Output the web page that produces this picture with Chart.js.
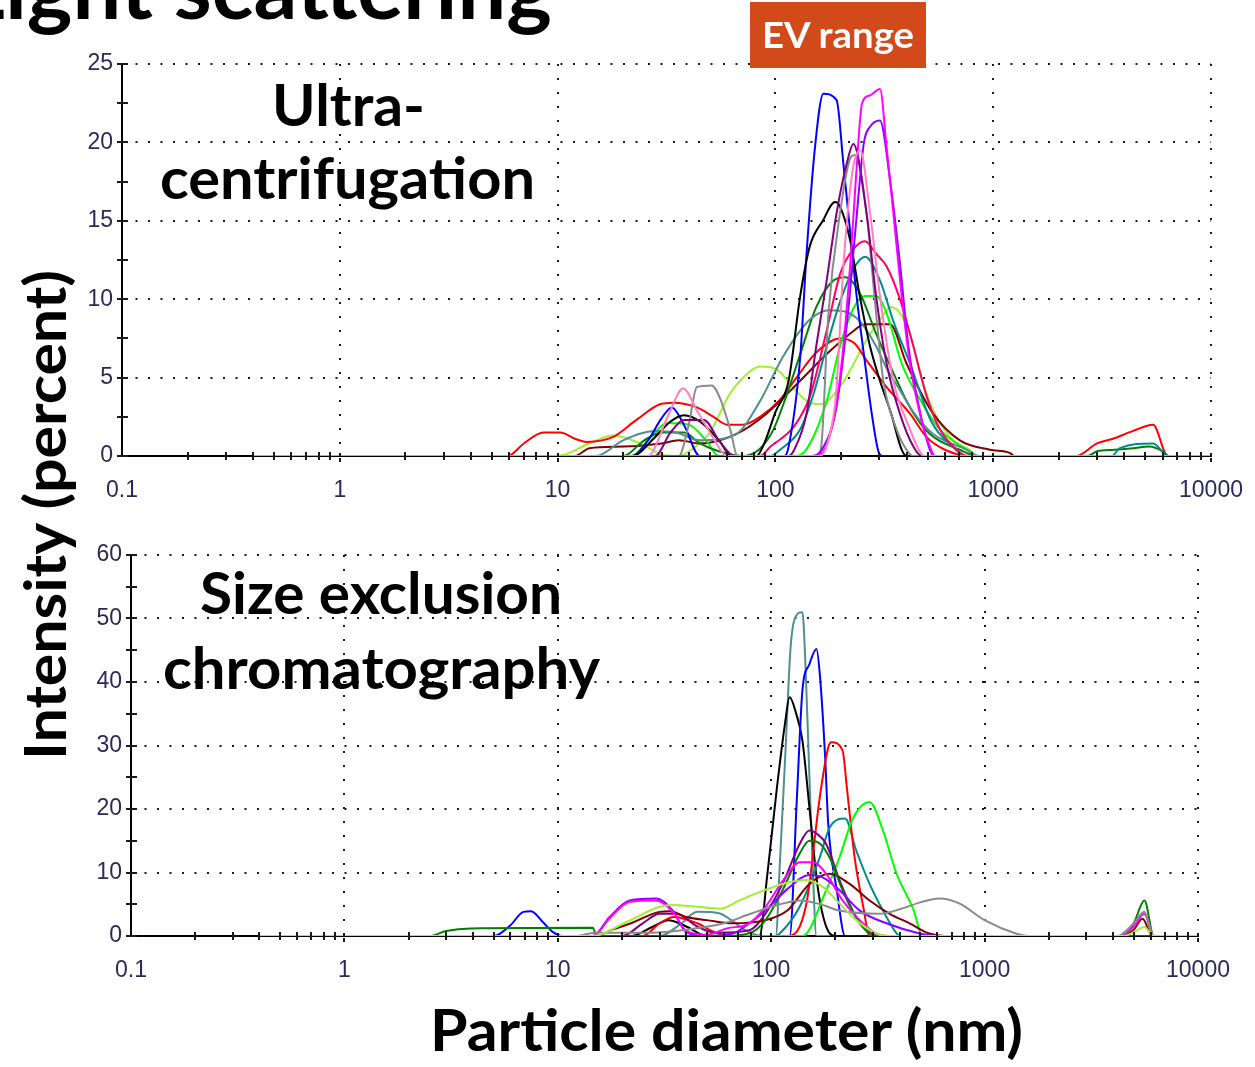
<!DOCTYPE html>
<html><head><meta charset="utf-8">
<script src="https://cdn.jsdelivr.net/npm/chart.js@4.4.1/dist/chart.umd.min.js"></script>
<style>
html,body{margin:0;padding:0;background:#fff;overflow:hidden;}
#wrap{position:relative;width:1255px;height:1067px;overflow:hidden;background:#fff;}
#c1{position:absolute;left:0;top:0;}
#c2{position:absolute;left:0;top:530px;}
#ov{position:absolute;left:0;top:0;pointer-events:none;}
#ov text{font-family:Lato,'Open Sans','DejaVu Sans',sans-serif;font-weight:700;}
</style></head><body>
<div id="wrap">
<canvas id="c1" width="1270" height="530"></canvas>
<canvas id="c2" width="1270" height="537"></canvas>
<svg id="ov" width="1255" height="1067" xmlns="http://www.w3.org/2000/svg">
  <text x="-40" y="19" font-size="84" textLength="592" lengthAdjust="spacingAndGlyphs" fill="#000">Light scattering</text>
  <rect x="750" y="2" width="176" height="66" fill="#D24A1A"/>
  <text x="762" y="48" font-size="36" fill="#fff" textLength="152" lengthAdjust="spacingAndGlyphs">EV range</text>
  <text x="272" y="126" font-size="57" textLength="153" lengthAdjust="spacingAndGlyphs" fill="#000">Ultra-</text>
  <text x="160" y="199" font-size="57" textLength="375" lengthAdjust="spacingAndGlyphs" fill="#000">centrifugation</text>
  <text x="200" y="614" font-size="57" textLength="362" lengthAdjust="spacingAndGlyphs" fill="#000">Size exclusion</text>
  <text x="163" y="689" font-size="57" textLength="437" lengthAdjust="spacingAndGlyphs" fill="#000">chromatography</text>
  <text x="430" y="1051" font-size="58" textLength="593" lengthAdjust="spacingAndGlyphs" fill="#000">Particle diameter (nm)</text>
  <text transform="translate(66,760) rotate(-90)" x="0" y="0" font-size="57" textLength="490" lengthAdjust="spacingAndGlyphs" fill="#000">Intensity (percent)</text>
</svg>
</div>
<script>
// ---------- axis ticks ----------
const xDecades = [0.1, 1, 10, 100, 1000, 10000];
const xTickLabels = ['0.1', '1', '10', '100', '1000', '10000'];
const ucYMajor = [0, 5, 10, 15, 20, 25];
const ucYMinor = [2.5, 7.5, 12.5, 17.5, 22.5];
const secYMajor = [0, 10, 20, 30, 40, 50, 60];
const secYMinor = [5, 15, 25, 35, 45, 55];

// ---------- Ultracentrifugation: [diameter nm, intensity %] ----------
const ucPink = [[0.4,0],[26,0],[32,2.5],[37.7,4.3],[44,2.8],[51.6,1.2],[60,0],[160,0],[175,1],[190,4],[205,12],[225,18],[245,19.5],[272,15.5],[302,10.2],[348,4.8],[415,1.7],[455,0.4],[480,0],[10000,0]];
const ucMagenta = [[0.4,0],[150,0],[175,1],[198,5],[220,12],[235,18],[250,22.5],[272,23],[302,23.4],[324,19.7],[348,15.5],[380,10.2],[415,5.9],[461,2.7],[512,0.6],[540,0],[10000,0]];
const ucViolet = [[0.4,0],[145,0],[165,0.5],[190,3],[215,9],[235,15],[255,20],[272,21],[302,21.4],[336,17.6],[373,12.3],[408,7],[446,3.8],[512,0.4],[540,0],[10000,0]];
const ucPurple = [[0.4,0],[28,0],[33,1.5],[38,2.3],[47,2.3],[55,1],[65,0],[115,0],[122,0.4],[139,2.7],[154,7],[172,11.2],[191,15.5],[213,18.7],[228,19.9],[262,15.5],[290,10.2],[324,5.9],[373,2.7],[430,0.6],[470,0],[10000,0]];
const ucGray = [[0.4,0],[36,0],[40,2],[43.6,4.4],[51,4.5],[56,3.6],[62,1.7],[67,0],[155,0],[162,0.5],[175,9],[198,15.5],[223,19.1],[234,19.2],[262,15.5],[290,9.1],[313,4.8],[360,1.7],[400,0.4],[430,0],[10000,0]];
const ucBlack = [[0.4,0],[22,0],[28,1.2],[33,2.2],[38,2.6],[45,2.2],[55,1],[63,0],[82,0],[90,1],[100,2.8],[115,4.8],[130,10.2],[144,13.4],[165,15],[188,16.2],[198,15.9],[220,13.8],[244,10.2],[272,7],[302,4.8],[340,2.7],[380,0.4],[400,0],[10000,0]];
const ucBlue = [[0.4,0],[22,0],[26,1],[30,2.4],[33.5,3.1],[38,2],[45,0],[110,0],[115,0.6],[130,6.3],[139,12.9],[152,19.7],[166,23.1],[191,22.7],[205,18.7],[220,14.4],[236,10.2],[258,5.9],[277,2.7],[297,0.3],[310,0],[10000,0]];
const ucRose = [[0.4,0],[85,0],[95,0.6],[122,1.9],[144,3.8],[172,8],[198,11.6],[225,13.1],[258,13.7],[290,12.9],[324,12.1],[373,10],[430,7],[495,3.8],[569,1.7],[680,0.4],[760,0],[10000,0]];
const ucTeal = [[0.4,0],[95,0],[105,0.4],[130,1.7],[150,4],[172,7],[200,10],[230,12],[258,12.7],[302,11.2],[350,8.5],[415,5.9],[520,2.2],[650,0.6],[750,0],[3500,0],[3820,0.5],[5420,0.8],[6350,0],[10000,0]];
const ucCadet = [[0.4,0],[15,0],[20,1],[28,1.6],[35,1.5],[45,1],[66,1.4],[85,3.5],[108,6.3],[144,8.7],[178,9.3],[210,9.2],[244,8.6],[290,7],[324,5.6],[373,4.2],[430,2.8],[530,1.4],[755,0.4],[850,0],[10000,0]];
const ucDarkGreen = [[0.4,0],[20,0],[25,1],[30,1.5],[38,1.5],[45,0.8],[55,0.3],[70,0],[84,0.4],[98,1.7],[112,3.8],[130,6.5],[154,9.5],[185,11.2],[210,11.4],[244,10.4],[290,7.8],[348,5.3],[415,3.1],[512,1.4],[703,0.4],[850,0],[2700,0],[3000,0.3],[3600,0.4],[4400,0.5],[5200,0.6],[6000,0.3],[6400,0],[10000,0]];
const ucLime = [[0.4,0],[22,0],[26,1],[32,2.1],[40,2.0],[48,1],[55,0],[125,0],[140,0.5],[172,3.5],[198,7],[230,9.5],[258,10.2],[290,10.2],[324,9.1],[380,5.9],[461,3.6],[569,1.7],[755,0.4],[850,0],[10000,0]];
const ucMaroon = [[0.4,0],[12,0],[14,0.5],[20,0.6],[30,0.8],[36,1],[45,0.8],[66,1.4],[91,2.7],[130,4.8],[172,6.5],[220,7.8],[258,8.4],[336,8.4],[400,5.9],[530,2.7],[703,1],[966,0.4],[1190,0.2],[1250,0],[10000,0]];
const ucRed = [[0.4,0],[5.9,0],[7,0.8],[8.6,1.5],[10.3,1.5],[12,1.1],[13.6,0.9],[17.9,1.2],[23,2.3],[29.5,3.3],[34,3.4],[43.6,3.1],[52,2.5],[60,2.0],[71,2.0],[85,2.5],[105,3.6],[125,5],[154,6.6],[198,7.5],[230,7.2],[262,6.1],[324,4.4],[415,2.7],[495,1.2],[600,0.4],[780,0],[2400,0],[3000,0.8],[3550,1.1],[4390,1.6],[5420,2.0],[6330,0],[10000,0]];
const ucYellowGreen = [[0.4,0],[10,0],[14,0.8],[18,1.3],[24,0.8],[30,0.1],[36,0],[42,0.5],[50,1.5],[62,4],[75,5.3],[85,5.7],[102,5.5],[120,4.4],[140,3.5],[160,3.3],[200,4.5],[262,7.4],[302,8.7],[340,9.5],[415,7.8],[461,5.3],[523,3.1],[655,1],[781,0.4],[850,0],[10000,0]];

// ---------- Size exclusion chromatography ----------
const secYellowGreen = [[0.4,0],[14.6,0],[21,2.2],[30,4.6],[34.6,4.9],[45,4.6],[57.4,4.3],[71,5.6],[88,6.9],[113,8.2],[146,8.8],[175,7.7],[209,5.1],[250,2.5],[310,0.4],[350,0],[4500,0],[5000,0.6],[5600,1.4],[6200,0],[10000,0]];
const secCadet = [[0.4,0],[30,0],[38,2],[45,3.8],[57,3.6],[65,2.5],[75,1],[90,0],[105,0],[110,12],[117,30],[123,45],[129,50],[140,51],[145,42],[150,28],[156,12],[163,0],[10000,0]];
const secBlue = [[0.4,0],[5,0],[6,1.7],[6.9,3.8],[7.5,3.9],[8.5,2.2],[9.5,0.6],[10.5,0],[122,0],[132,21.9],[140,38.6],[151,42.8],[163,45.2],[169,41.2],[179,28.1],[185,17.7],[203,7.2],[222,0],[10000,0]];
const secBlack = [[0.4,0],[22,0],[28,1.5],[33,2.5],[40,1.5],[50,0],[88,0],[96,9.8],[106,22.9],[116,33.4],[122,37.6],[131,35],[140,30.8],[151,20.3],[166,7.2],[188,0.4],[200,0],[10000,0]];
const secRed = [[0.4,0],[25,0],[30,2],[35,3],[45,2],[55,0.5],[65,0],[120,0],[146,5],[169,21.9],[185,29.7],[192,30.5],[216,29.2],[227,22.9],[246,12.4],[270,4.6],[289,0],[10000,0]];
const secLime = [[0.4,0],[140,0],[181,7.2],[209,12.4],[243,18.7],[289,21.1],[334,16.6],[387,9.8],[466,4],[510,0],[10000,0]];
const secTeal = [[0.4,0],[105,0],[109,0.3],[136,4.6],[169,12.4],[188,17.1],[222,18.5],[250,13.5],[289,8.2],[334,4],[387,0.4],[400,0],[10000,0]];
const secGray = [[0.4,0],[12,0],[15,0.5],[25,0.5],[40,1],[60,2],[80,3.5],[110,5],[136,5.6],[170,5],[209,4],[322,3.5],[400,4.2],[500,5.3],[615,5.9],[764,5.1],[1000,2.5],[1400,0.4],[1600,0],[4200,0],[5000,2],[5600,3.8],[6200,0],[10000,0]];
const secViolet = [[0.4,0],[14.6,0],[17.5,3],[21.7,5.6],[29,5.9],[34.6,4],[40,0.6],[50,0],[66,0.4],[79,2],[94,4],[120,7.5],[151,9.6],[175,9.2],[209,7.2],[260,4],[347,2],[496,0.4],[600,0],[10000,0]];
const secMagenta = [[0.4,0],[14.6,0],[17.5,2.8],[21.7,5.4],[29,5.6],[34.6,3.8],[40,0.8],[50,0.2],[62,1.2],[79,2],[94,4.6],[115,9],[136,11.6],[157,11.6],[181,9.8],[216,5.6],[260,2.5],[310,0.4],[350,0],[4300,0],[5000,1.5],[5600,3.5],[6200,0],[10000,0]];
const secPurple = [[0.4,0],[20,0],[25,2],[30,3.5],[36,3.5],[45,1.5],[55,0.5],[79,0.9],[94,3.5],[113,8.2],[136,14.5],[151,16.6],[165,16],[181,14.5],[209,8.8],[250,3],[296,0.4],[320,0],[10000,0]];
const secDarkGreen = [[0.4,0],[2.5,0],[3,0.8],[3.9,1.2],[14.6,1.3],[15.2,0],[60,0],[80,0.5],[94,2.5],[113,7.2],[136,13],[151,15],[170,14.5],[190,12],[216,7.2],[260,2],[310,0],[4500,0],[5000,2],[5610,5.6],[6200,0],[10000,0]];
const secMaroon = [[0.4,0],[15,0],[18,1],[22,2],[30,3.8],[33.5,3.9],[40,3],[50,2.5],[66,2],[94,2.5],[119,4],[151,8.2],[188,9.8],[233,8.2],[289,5.6],[359,3.5],[445,2],[550,0.4],[650,0],[4500,0],[5000,1],[5500,2.7],[6100,0],[10000,0]];

// ---------- styles ----------
const lineColors = {
  pink:'#FF7FBF', magenta:'#FF00FF', violet:'#8B00FF', purple:'#800080', gray:'#8A8A8A',
  black:'#000000', blue:'#0000FF', rose:'#FF0066', teal:'#008B8B', cadet:'#4F8F8F',
  darkGreen:'#008000', lime:'#00FF00', maroon:'#800000', red:'#FF0000', yellowGreen:'#A0F030'
};
// first entry is drawn on top
const ucSeries = [['pink',ucPink],['magenta',ucMagenta],['violet',ucViolet],['purple',ucPurple],['gray',ucGray],['black',ucBlack],['blue',ucBlue],['rose',ucRose],['teal',ucTeal],['cadet',ucCadet],['darkGreen',ucDarkGreen],['lime',ucLime],['maroon',ucMaroon],['red',ucRed],['yellowGreen',ucYellowGreen]];
const secSeries = [['yellowGreen',secYellowGreen],['gray',secGray],['magenta',secMagenta],['violet',secViolet],['darkGreen',secDarkGreen],['maroon',secMaroon],['purple',secPurple],['lime',secLime],['red',secRed],['teal',secTeal],['blue',secBlue],['black',secBlack],['cadet',secCadet]];

const xMinor = [];
xDecades.slice(0, -1).forEach(d => { for (let m = 2; m <= 9; m++) xMinor.push(+(d * m).toPrecision(3)); });

const tickFont = { family: "'Liberation Sans Narrow','Liberation Sans',Arial,sans-serif", size: 23 };
const tickColor = '#2a2a58';

const tickMarks = {
  id: 'tickMarks',
  afterDatasetsDraw(chart, args, opts) {
    const { ctx, chartArea: a } = chart;
    const xs = chart.scales.x, ys = chart.scales.y;
    ctx.save();
    ctx.fillStyle = '#1a1a1a';
    xMinor.forEach(v => { const px = Math.round(xs.getPixelForValue(v)); ctx.fillRect(px - 1, a.bottom - 4, 2, 8); });
    xDecades.slice(1).forEach(v => { const px = Math.round(xs.getPixelForValue(v)); ctx.fillRect(px - 1, a.bottom - 3, 2, 3); ctx.fillRect(px - 1, a.bottom + 2, 2, 4); });
    opts.yMajor.concat(opts.yMinor).forEach(v => { const py = Math.round(ys.getPixelForValue(v)); ctx.fillRect(a.left - 5, py - 1, 11, 2); });
    ctx.restore();
  }
};

function makeChart(id, seriesList, yMax, yMajor, yMinor, pad) {
  return new Chart(document.getElementById(id), {
    type: 'line',
    data: { datasets: seriesList.map(([name, data]) => ({
      label: name, data, borderColor: lineColors[name], borderWidth: 2,
      pointRadius: 0, pointHoverRadius: 0, fill: false, cubicInterpolationMode: 'monotone'
    })) },
    options: {
      responsive: false, animation: false, devicePixelRatio: 1,
      events: [],
      layout: { padding: pad },
      plugins: { legend: { display: false }, tooltip: { enabled: false }, tickMarks: { yMajor, yMinor } },
      scales: {
        x: {
          type: 'logarithmic', min: 0.1, max: 10000,
          afterBuildTicks: s => { s.ticks = xDecades.map(v => ({ value: v, major: true })); },
          afterFit: s => { s.height = 50; },
          ticks: { callback: (v, i) => xTickLabels[i], autoSkip: false, maxRotation: 0, minRotation: 0, padding: 21, color: tickColor, font: tickFont },
          grid: { drawTicks: false, lineWidth: 2, color: c => (c.tick && c.tick.value > 0.1) ? '#1a1a1a' : 'rgba(0,0,0,0)' },
          border: { display: true, color: '#000', width: 2, dash: [2, 12] }
        },
        y: {
          type: 'linear', min: 0, max: yMax,
          afterBuildTicks: s => { s.ticks = yMajor.map(v => ({ value: v })); },
          afterFit: s => { s.width = 50; },
          ticks: { callback: v => String(v), padding: 9, color: tickColor, font: tickFont },
          grid: { drawTicks: false, lineWidth: 2, color: c => (c.tick && c.tick.value > 0) ? '#1a1a1a' : 'rgba(0,0,0,0)' },
          border: { display: true, color: '#000', width: 2, dash: [2, 10.5] }
        }
      }
    },
    plugins: [tickMarks]
  });
}

// plot areas: top 122..1211 x 64..456 ; bottom 131..1198 x 555..936
makeChart('c1', ucSeries, 25, ucYMajor, ucYMinor, { left: 72, top: 64, right: 59, bottom: 24 });
makeChart('c2', secSeries, 60, secYMajor, secYMinor, { left: 81, top: 25, right: 72, bottom: 81 });
</script>
</body></html>
